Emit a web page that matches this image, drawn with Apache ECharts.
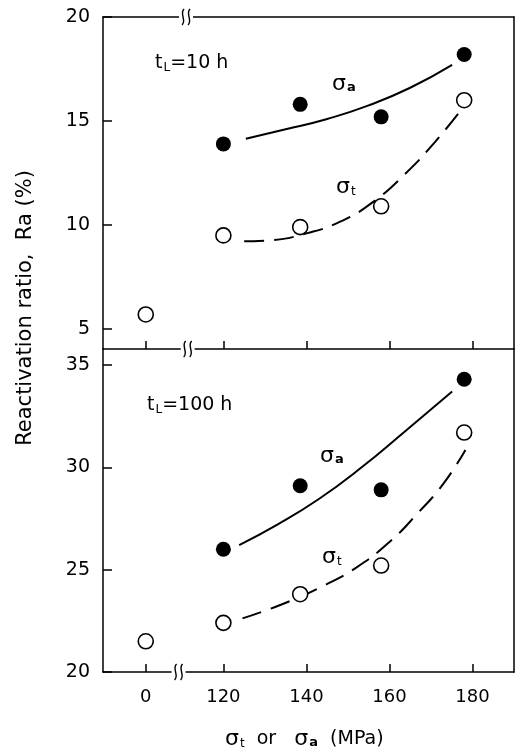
<!DOCTYPE html>
<html>
<head>
<meta charset="utf-8">
<script src="https://cdn.jsdelivr.net/npm/echarts@6/dist/echarts.min.js"></script>
<style>
html, body { margin: 0; padding: 0; background: #fff; }
#main { width: 517px; height: 749px; }
</style>
</head>
<body>
<div id="main"></div>
<script>
// applied stress (MPa), 0 sits left of the axis break
var stress = [0, 120, 138.5, 158, 178];
var xTickValues = [0, 120, 140, 160, 180];
var yTicksTop = [5, 10, 15, 20];
var yTicksBottom = [20, 25, 30, 35];

// reactivation ratio Ra (%), tL = 10 h
var ra10Sa = [null, 13.9, 15.8, 15.2, 18.2];
var ra10St = [5.7, 9.5, 9.9, 10.9, 16.0];
// tL = 100 h
var ra100Sa = [null, 26.0, 29.1, 28.9, 34.3];
var ra100St = [21.5, 22.4, 23.8, 25.2, 31.7];

// hand drawn trend curves
var fit10SaX = [125.4, 135, 145, 155, 165, 175.1];
var fit10SaY = [14.15, 14.6, 15.1, 15.75, 16.6, 17.7];
var fit10StX = [125, 132, 140, 148, 156, 164, 171, 177.5];
var fit10StY = [9.22, 9.28, 9.6, 10.15, 11.1, 12.5, 14.0, 15.6];
var fit100SaX = [123.8, 133, 143, 153, 164, 175.1];
var fit100SaY = [26.2, 27.2, 28.45, 29.95, 31.8, 33.7];
var fit100StX = [124.6, 134, 144, 152, 160, 167, 173, 178.3];
var fit100StY = [22.62, 23.3, 24.2, 25.1, 26.35, 27.8, 29.2, 30.85];

var ZERO_AT = 101.3; // where "0" is drawn on the broken axis
function bx(v) { return v === 0 ? ZERO_AT : v; }
function pairs(xs, ys) {
  var out = [];
  for (var i = 0; i < xs.length; i++) {
    if (ys[i] != null) out.push([bx(xs[i]), ys[i]]);
  }
  return out;
}

var FONT = "'DejaVu Sans', sans-serif";
var black = "#000";
var axisLine = { show: true, onZero: false, lineStyle: { color: black, width: 1.5 } };
var lineOnly = function (grid, pos, isX) {
  var a = {
    gridIndex: grid, type: "value", position: pos,
    axisLine: axisLine, axisTick: { show: false },
    axisLabel: { show: false }, splitLine: { show: false }
  };
  if (isX) { a.min = 91; a.max = 190; } else if (grid === 0) { a.min = 4.04; a.max = 20; } else { a.min = 20; a.max = 35.78; }
  return a;
};
var xTicks = xTickValues.map(bx);

var chart = echarts.init(document.getElementById("main"));

function scatter(x, y, ax, filled) {
  return {
    type: "scatter", xAxisIndex: ax, yAxisIndex: ax === 0 ? 0 : 2,
    data: pairs(stress, y), symbol: "circle", symbolSize: 15, z: 5,
    itemStyle: filled
      ? { color: black, opacity: 1 }
      : { color: "#fff", borderColor: black, borderWidth: 1.6, opacity: 1 }
  };
}
function curve(xs, ys, ax, dashed) {
  return {
    type: "line", xAxisIndex: ax, yAxisIndex: ax === 0 ? 0 : 2,
    data: pairs(xs, ys), smooth: true, showSymbol: false, z: 2,
    lineStyle: { color: black, width: 2, type: dashed ? [20, 10] : "solid" }
  };
}

var option = {
  animation: false,
  backgroundColor: "#fff",
  grid: [
    { left: 103, right: 3, top: 17, height: 332 },
    { left: 103, right: 3, top: 349, height: 323 }
  ],
  xAxis: [
    {
      gridIndex: 0, type: "value", min: 91, max: 190, position: "bottom",
      axisLine: axisLine,
      axisTick: { show: true, inside: true, length: 8, customValues: xTicks, lineStyle: { color: black, width: 1.5 } },
      axisLabel: { show: false }, splitLine: { show: false }
    },
    lineOnly(0, "top", true),
    {
      gridIndex: 1, type: "value", min: 91, max: 190, position: "bottom",
      axisLine: axisLine,
      axisTick: { show: true, inside: true, length: 8, customValues: xTicks, lineStyle: { color: black, width: 1.5 } },
      axisLabel: {
        customValues: xTicks, margin: 16, color: black, fontSize: 18, fontFamily: FONT,
        formatter: function (v) { return v < 110 ? "0" : String(Math.round(v)); }
      },
      splitLine: { show: false }
    }
  ],
  yAxis: [
    {
      gridIndex: 0, type: "value", min: 4.04, max: 20,
      axisLine: axisLine,
      axisTick: { show: true, inside: true, length: 9, customValues: yTicksTop, lineStyle: { color: black, width: 1.5 } },
      axisLabel: { customValues: yTicksTop, margin: 13, color: black, fontSize: 19, fontFamily: FONT },
      splitLine: { show: false }
    },
    lineOnly(0, "right", false),
    {
      gridIndex: 1, type: "value", min: 20, max: 35.78,
      axisLine: axisLine,
      axisTick: { show: true, inside: true, length: 9, customValues: yTicksBottom, lineStyle: { color: black, width: 1.5 } },
      axisLabel: { customValues: yTicksBottom, margin: 13, color: black, fontSize: 19, fontFamily: FONT },
      splitLine: { show: false }
    },
    lineOnly(1, "right", false)
  ],
  series: [
    curve(fit10SaX, fit10SaY, 0, false),
    curve(fit10StX, fit10StY, 0, true),
    scatter(stress, ra10Sa, 0, true),
    scatter(stress, ra10St, 0, false),
    curve(fit100SaX, fit100SaY, 2, false),
    curve(fit100StX, fit100StY, 2, true),
    scatter(stress, ra100Sa, 2, true),
    scatter(stress, ra100St, 2, false)
  ]
};
chart.setOption(option);

// break marks on the x axis lines
function breakMark(cx, cy) {
  var els = [{
    type: "rect", shape: { x: cx - 7, y: cy - 2.5, width: 14, height: 5 },
    style: { fill: "#fff" }, z: 100
  }];
  [-3, 3].forEach(function (d) {
    var x = cx + d;
    els.push({
      type: "bezierCurve", z: 101,
      shape: { x1: x + 1, y1: cy - 8, cpx1: x - 4, cpy1: cy - 3, cpx2: x + 4, cpy2: cy + 3, x2: x - 1, y2: cy + 8 },
      style: { stroke: black, lineWidth: 1.4, fill: null }
    });
  });
  return els;
}
var yTop = chart.convertToPixel({ yAxisIndex: 0 }, 20);
var yMid = chart.convertToPixel({ yAxisIndex: 0 }, 4.04);
var yBot = chart.convertToPixel({ yAxisIndex: 2 }, 20);
var g = []
  .concat(breakMark(chart.convertToPixel({ xAxisIndex: 0 }, 111), yTop))
  .concat(breakMark(chart.convertToPixel({ xAxisIndex: 0 }, 111.4), yMid))
  .concat(breakMark(chart.convertToPixel({ xAxisIndex: 2 }, 109.2), yBot));

var rich = {
  n: { fontSize: 19, fontFamily: FONT, color: black },
  s: { fontSize: 22, fontFamily: FONT, color: black },
  sub: { fontSize: 12, fontFamily: FONT, color: black, padding: [9, 0, 0, 1] },
  subB: { fontSize: 13, fontFamily: FONT, fontWeight: "bold", color: black, padding: [8, 0, 0, 1] }
};
function label(x, y, text) {
  return { type: "text", x: x, y: y, z: 50, style: { text: text, rich: rich, verticalAlign: "middle", align: "left" } };
}
g.push(label(155, 63, "{n|t}{sub|L}{n|=10 h}"));
g.push(label(147, 405, "{n|t}{sub|L}{n|=100 h}"));
g.push(label(332, 84, "{s|σ}{subB|a}"));
g.push(label(336, 187, "{s|σ}{sub|t}"));
g.push(label(320, 456, "{s|σ}{subB|a}"));
g.push(label(322, 557, "{s|σ}{sub|t}"));
g.push(label(225, 739, "{s|σ}{sub|t}{n|  or   }{s|σ}{subB|a}{n|  (MPa)}"));
g.push({
  type: "text", x: 26, y: 308, rotation: Math.PI / 2, z: 50,
  style: { text: "Reactivation ratio,  Ra (%)", fontSize: 21, fontFamily: FONT, fill: black, align: "center", verticalAlign: "middle" }
});
chart.setOption({ graphic: g });
</script>
</body>
</html>
